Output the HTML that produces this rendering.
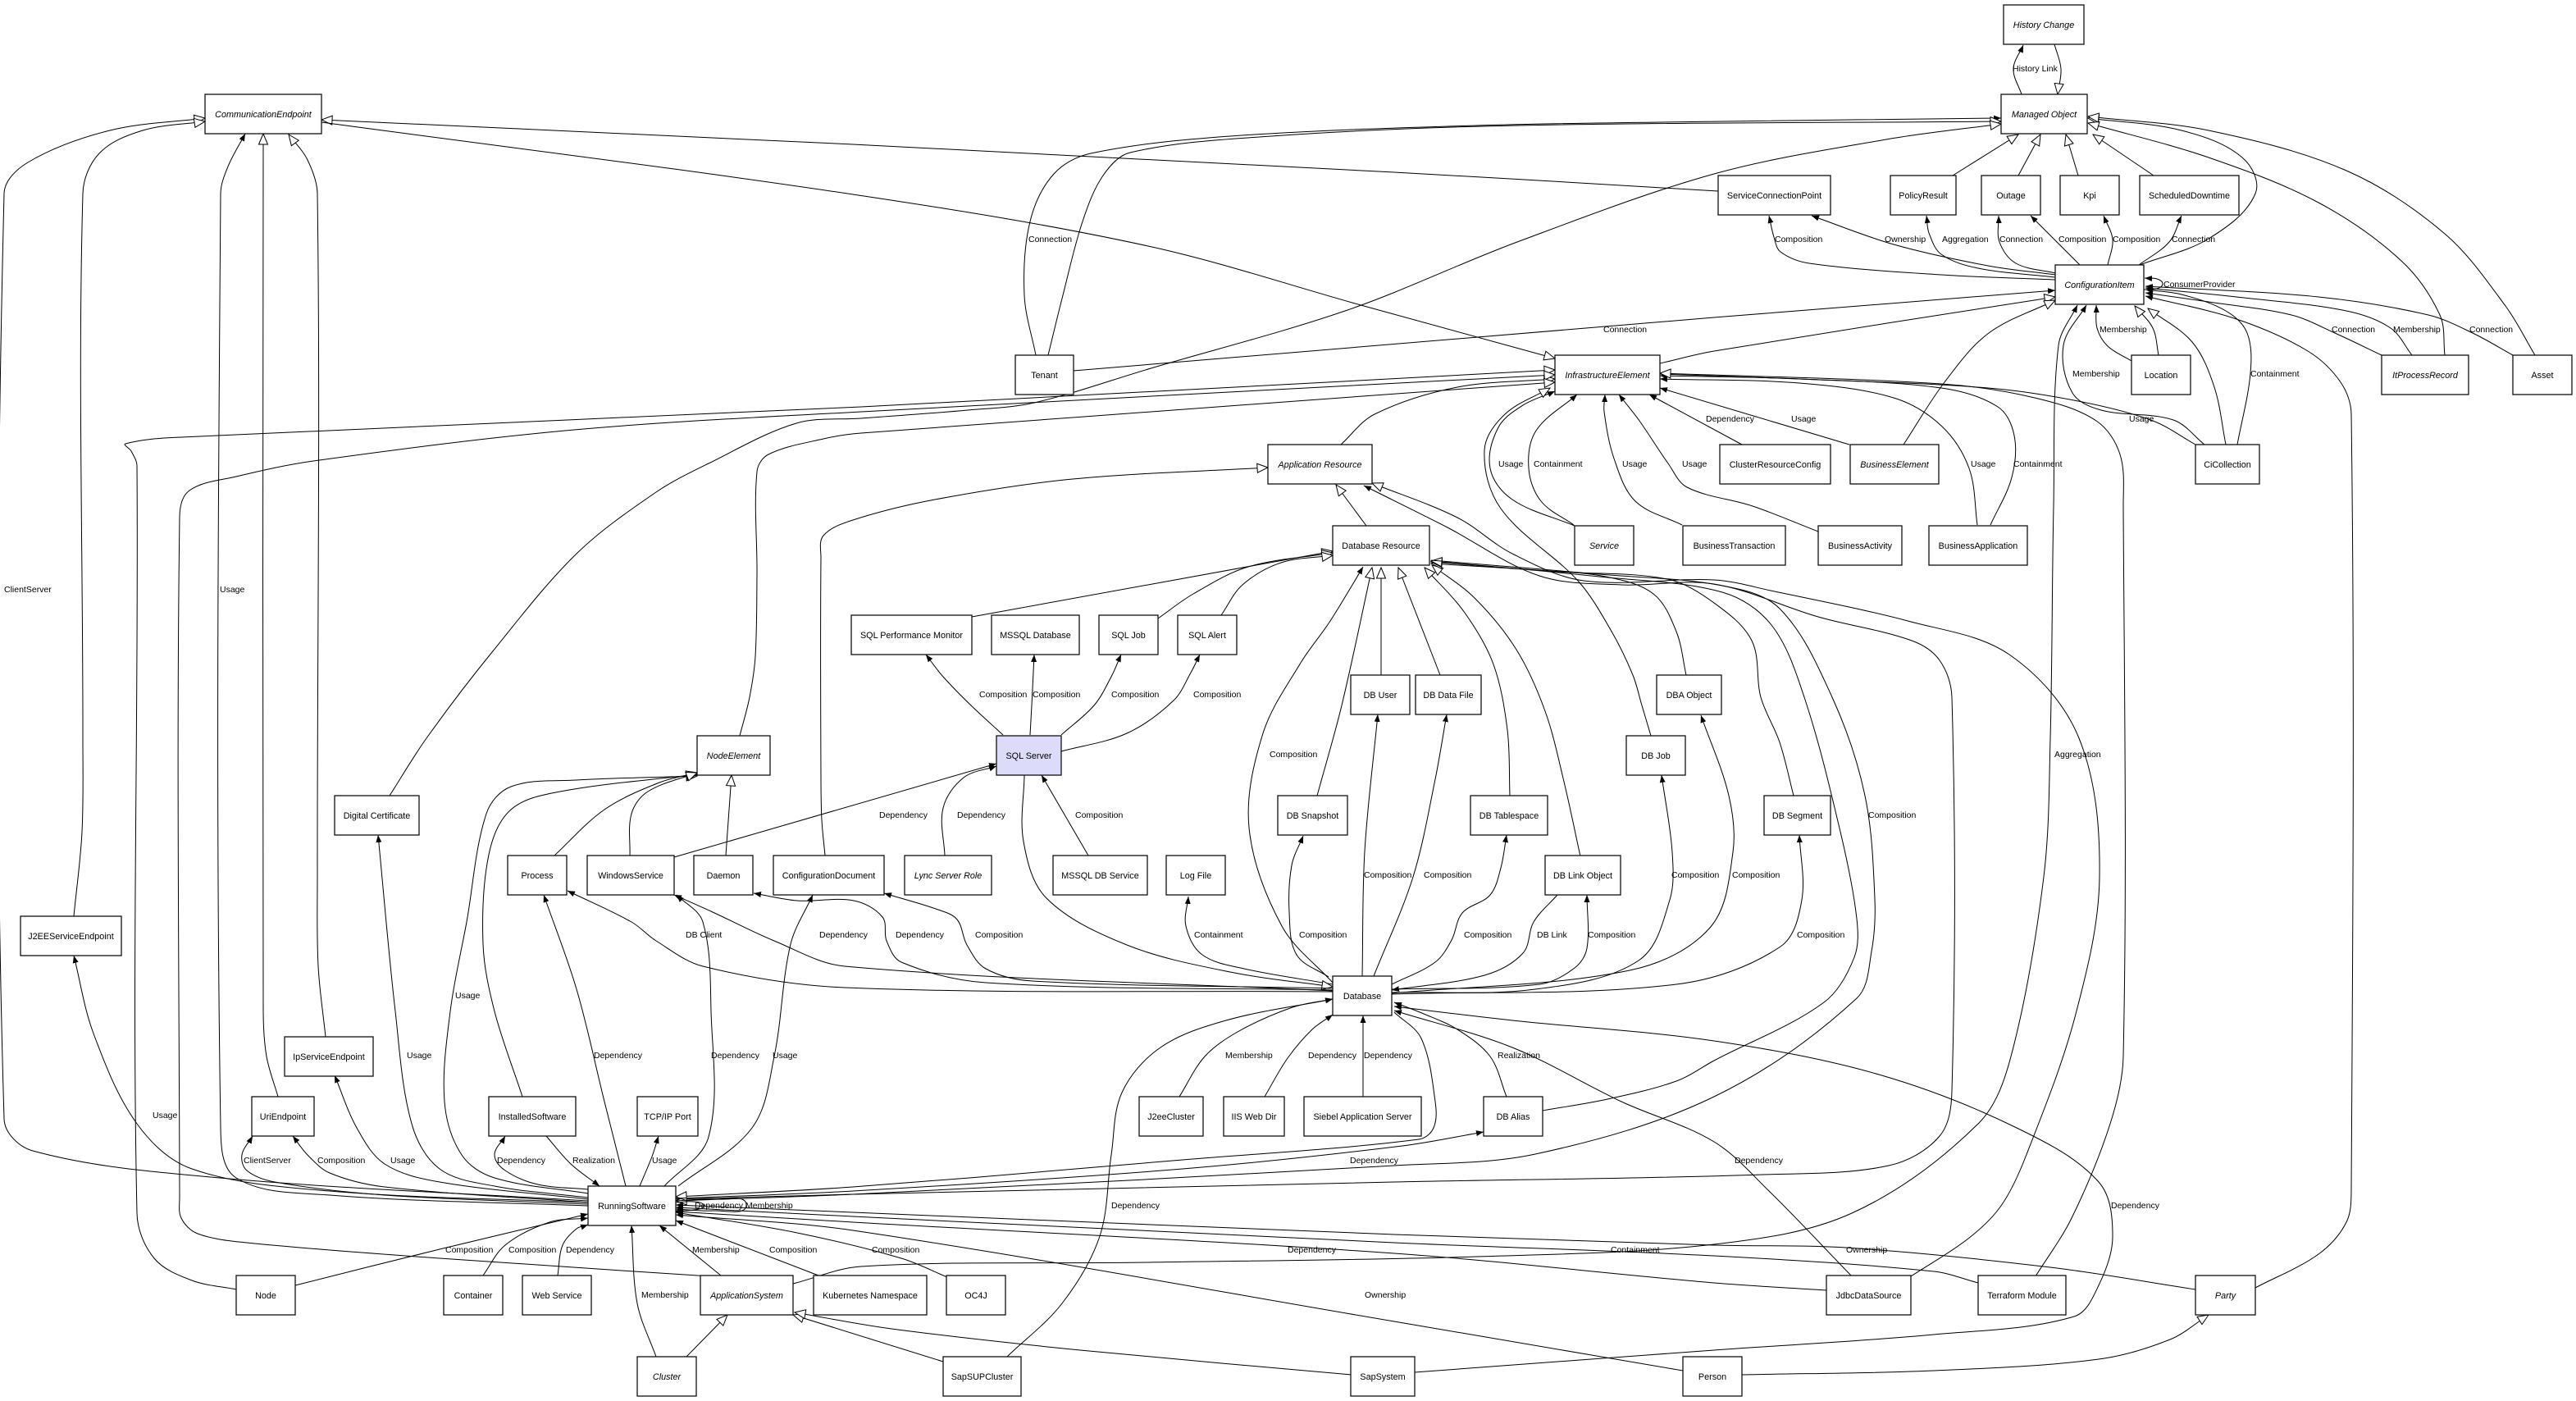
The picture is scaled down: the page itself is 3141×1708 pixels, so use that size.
<!DOCTYPE html>
<html><head><meta charset="utf-8"><title>Diagram</title>
<style>
html,body{margin:0;padding:0;background:#fff;}
svg{display:block;}
text{font-family:"Liberation Sans",Arial,sans-serif;fill:#000;}
text.l{font-size:10.5px;}
text.n{font-size:10.8px;text-anchor:middle;}
text.i{font-style:italic;}
path.e{fill:none;stroke:#000;stroke-width:1;}
.f{marker-end:url(#f);}
.h{marker-end:url(#h);}
rect.b{fill:#fff;stroke:#111;stroke-width:1.3;}
</style></head>
<body>
<svg width="3141" height="1708" viewBox="0 0 3141 1708" xmlns="http://www.w3.org/2000/svg">
<defs>
<marker id="f" viewBox="0 0 9 7" markerWidth="9" markerHeight="7" refX="9" refY="3.5" orient="auto" markerUnits="userSpaceOnUse"><path d="M0,0 L9,3.5 L0,7 z" fill="#000"/></marker>
<marker id="h" viewBox="-1 -1 15 13" markerWidth="15" markerHeight="13" refX="13" refY="5.5" orient="auto" markerUnits="userSpaceOnUse"><path d="M0,0 L13,5.5 L0,11 z" fill="#fff" stroke="#000" stroke-width="1"/></marker>
</defs>
<rect x="0" y="0" width="3141" height="1708" fill="#fff"/>
<g id="edges">
<path class="e f" d="M2465,115L2455,84 2467,55"/>
<path class="e h" d="M2505,54L2513,84 2509,115"/>
<path class="e h" d="M2381,214L2461,164"/>
<path class="e h" d="M2461,214L2488,164"/>
<path class="e h" d="M2534,214L2519,164"/>
<path class="e h" d="M2626,214L2552,164"/>
<path class="e h" d="M2609,323L2693,291 2750,236 2734,192 2660,159 2546,144"/>
<path class="e h" d="M2981,433L2975,384 2928,318 2827,247 2693,192 2546,150"/>
<path class="e h" d="M3091,433L3055,373 2981,285 2861,208 2693,159 2546,142"/>
<path class="e f" d="M1263,433L1249,360 1256,270 1285,212 1330,187 1500,166 1800,153 2100,148 2440,144"/>
<path class="e h" d="M1278,433L1296,360 1320,270 1345,214 1378,186 1550,166 1850,153 2440,148"/>
<path class="e h" d="M475,970L520,900 600,795 703,675 800,600 864,565 971,516 1050,510 1180,500 1261,491 1400,450 1643,378 1850,295 2090,212 2300,170 2440,151"/>
<path class="e h" d="M2095,233L1700,210 1040,176 392,146"/>
<path class="e h" d="M392,149L1040,237 1400,300 1663,373 1896,437"/>
<path class="e f" d="M2506,341L2367,335 2206,321 2171,307 2163,289 2157,263"/>
<path class="e f" d="M2506,335L2424,324 2309,298 2209,263"/>
<path class="e f" d="M2506,338L2412,327 2367,310 2352,284 2349,263"/>
<path class="e f" d="M2506,333L2458,321 2438,295 2437,263"/>
<path class="e f" d="M2536,323L2476,263"/>
<path class="e f" d="M2570,323L2576,292 2565,263"/>
<path class="e f" d="M2608,323L2645,295 2660,263"/>
<path class="e f" d="M2614,353L2630,352 2637,346 2630,340 2615,339"/>
<path class="e f" d="M1309,452L2090,387 2506,354"/>
<path class="e h" d="M2024,443L2090,428 2506,362"/>
<path class="e h" d="M2321,542L2371,466 2425,406 2506,366"/>
<path class="e f" d="M967,1565L1050,1544 1400,1539 1800,1532 2090,1517 2258,1479 2412,1370 2452,1288 2492,1069 2500,900 2504,617 2510,421 2533,372"/>
<path class="e f" d="M2688,542L2650,512 2562,500 2527,479 2516,421 2544,372"/>
<path class="e f" d="M2599,440L2570,422 2557,400 2556,372"/>
<path class="e h" d="M2632,433L2625,400 2603,373"/>
<path class="e h" d="M2714,542L2700,472 2673,417 2619,376"/>
<path class="e f" d="M2728,542L2744,455 2740,406 2714,379 2660,359 2616,353"/>
<path class="e f" d="M2904,433L2847,406 2794,384 2693,368 2616,357"/>
<path class="e f" d="M2941,433L2915,400 2861,379 2727,362 2616,351"/>
<path class="e f" d="M3064,433L3015,406 2961,384 2827,362 2616,349"/>
<path class="e f" d="M2750,1570L2827,1529 2861,1490 2867,1450 2867,505 2854,466 2814,428 2727,389 2616,361"/>
<path class="e h" d="M1635,542L1676,505 1777,472 1896,462"/>
<path class="e f" d="M2124,542L2011,481"/>
<path class="e f" d="M2255,542L2024,473"/>
<path class="e f" d="M2411,640L2401,571 2367,519 2309,485 2194,467 2024,462"/>
<path class="e f" d="M2427,640L2453,582 2456,531 2436,496 2367,473 2194,462 2024,458"/>
<path class="e f" d="M2677,542L2625,513 2539,490 2424,473 2194,462 2024,456"/>
<path class="e h" d="M2482,1556L2526,1485 2573,1370 2589,1288 2589,617 2585,554 2556,513 2481,485 2367,468 2024,455"/>
<path class="e f" d="M1919,640L1879,611 1864,571 1873,525 1923,481"/>
<path class="e f" d="M1920,641L1844,609 1817,571 1827,521 1857,494 1896,477"/>
<path class="e f" d="M2051,640L1994,611 1968,559 1956,502 1957,481"/>
<path class="e f" d="M2217,648L2137,617 2057,594 2034,565 1999,513 1974,481"/>
<path class="e h" d="M2013,897L2002,860 1991,823 1964,768 1924,708 1830,620 1810,549 1835,505 1890,473"/>
<path class="e h" d="M288,1572L234,1561 188,1534 167,1479 167,568 160,550 153,541 221,533 1050,496 1896,451"/>
<path class="e h" d="M866,1556L536,1534 301,1515 241,1504 221,1485 219,1460 219,630 231,598 288,581 382,562 700,524 1050,502 1896,457"/>
<path class="e h" d="M902,897L914,850 921,800 923,700 923,575 937,554 1004,535 1050,528 1896,466"/>
<path class="e h" d="M1666,641L1629,591"/>
<path class="e h" d="M1006,1043L1002,1000 1001,950 1001,680 1004,653 1040,634 1140,609 1308,584 1546,570"/>
<path class="e h" d="M2330,1556L2400,1510 2440,1470 2470,1410 2530,1240 2560,1070 2535,900 2450,798 2330,758 2159,720 2090,707 1931,708 1844,675 1777,631 1673,589"/>
<path class="e f" d="M824,1462L1040,1456 1700,1441 2150,1432 2303,1421 2365,1385 2380,1330 2380,850 2365,805 2331,781 2217,752 2090,712 1977,713 1877,702 1763,642 1663,592"/>
<path class="e h" d="M1185,752L1625,672"/>
<path class="e h" d="M1412,754L1455,724 1522,691 1625,674"/>
<path class="e h" d="M1489,750L1515,713 1562,686 1625,677"/>
<path class="e h" d="M1606,970L1636,860 1673,692"/>
<path class="e h" d="M1684,823L1684,692"/>
<path class="e h" d="M1756,823L1705,692"/>
<path class="e h" d="M1841,970L1838,890 1821,810 1786,747 1737,692"/>
<path class="e h" d="M1927,1044L1907,953 1884,867 1849,792 1798,729 1746,689"/>
<path class="e h" d="M2056,823L2044,770 2016,724 1958,703 1872,695 1745,687"/>
<path class="e h" d="M2187,970L2170,905 2147,850 2136,781 2090,735 2033,706 1900,697 1745,685"/>
<path class="e h" d="M1881,1354L1960,1340 2044,1318 2090,1293 2224,1222 2261,1167 2264,1120 2244,1014 2200,850 2160,762 2100,722 1950,703 1745,684"/>
<path class="e h" d="M1745,683L1950,700 2100,714 2170,742 2234,850 2274,970 2286,1096 2282,1160 2264,1217 2090,1337 1872,1407 1700,1421 1040,1456 824,1464"/>
<path class="e f" d="M1625,1198L1563,1129 1523,1009 1540,894 1586,808 1620,760 1649,713 1662,691"/>
<path class="e f" d="M1661,1190L1664,1038 1680,871"/>
<path class="e f" d="M1675,1190L1723,1069 1750,950 1764,871"/>
<path class="e f" d="M1620,1191L1581,1164 1572,1112 1575,1055 1589,1019"/>
<path class="e f" d="M1625,1200L1517,1181 1466,1164 1446,1129 1449,1093"/>
<path class="e h" d="M1249,945L1248,1026 1276,1095 1374,1152 1500,1185 1625,1203"/>
<path class="e f" d="M1625,1205L1259,1196 1202,1181 1179,1152 1167,1121 1144,1109 1078,1089"/>
<path class="e f" d="M1625,1207L1202,1198 1099,1173 1081,1147 1076,1118 1041,1098 972,1098 919,1089"/>
<path class="e f" d="M1625,1208L1030,1178 944,1147 869,1112 822,1091"/>
<path class="e f" d="M1625,1209L1030,1204 857,1178 800,1147 770,1124 692,1086"/>
<path class="e f" d="M1697,1200L1750,1173 1770,1146 1783,1113 1817,1091 1830,1058 1837,1018"/>
<path class="e f" d="M1899,1091L1870,1124 1857,1162 1810,1189 1697,1207"/>
<path class="e f" d="M1697,1206L1877,1200 1920,1180 1935,1156 1935,1091"/>
<path class="e f" d="M1697,1210L1872,1206 1998,1171 2036,1097 2039,1039 2026,945"/>
<path class="e f" d="M1697,1211L1987,1183 2085,1131 2113,1039 2108,970 2074,872"/>
<path class="e f" d="M1697,1212L2044,1200 2171,1154 2197,1097 2194,1018"/>
<path class="e f" d="M1438,1337L1469,1288 1509,1258 1576,1228 1625,1218"/>
<path class="e f" d="M1542,1337L1570,1290 1600,1255 1625,1237"/>
<path class="e f" d="M1662,1337L1662,1238"/>
<path class="e f" d="M1837,1337L1817,1288 1777,1255 1736,1236 1700,1222"/>
<path class="e f" d="M1228,1654L1295,1589 1341,1507 1355,1408 1368,1332 1415,1277 1495,1244 1625,1218"/>
<path class="e f" d="M2258,1556L2157,1452 2090,1392 1977,1343 1844,1277 1700,1232"/>
<path class="e f" d="M1725,1673L2090,1646 2358,1627 2529,1605 2559,1567 2576,1507 2559,1441 2459,1375 2291,1310 2090,1269 1844,1244 1700,1227"/>
<path class="e h" d="M1700,1234L1733,1266 1750,1343 1748,1375 1730,1389 1442,1414 1040,1447 824,1459"/>
<path class="e f" d="M824,1461L1040,1452 1442,1425 1710,1397 1809,1380"/>
<path class="e f" d="M824,1464L870,1462 910,1469 870,1476 824,1474"/>
<path class="e f" d="M824,1466L846,1465 858,1470 846,1475 824,1476"/>
<path class="e f" d="M717,1460L603,1446 536,1425 502,1370 482,1233 461,1018"/>
<path class="e f" d="M717,1466L402,1452 234,1425 167,1370 114,1260 90,1165"/>
<path class="e h" d="M717,1464L268,1436 40,1403 5,1364 5,236 34,198 134,159 250,144"/>
<path class="e f" d="M717,1470L402,1457 288,1436 269,1375 269,236 278,203 299,163"/>
<path class="e h" d="M90,1117L100,1014 101,900 101,236 121,187 174,159 250,148"/>
<path class="e h" d="M339,1337L325,1288 321,1233 321,163"/>
<path class="e h" d="M397,1264L388,1178 387,1069 387,236 375,195 352,164"/>
<path class="e f" d="M717,1468L469,1457 335,1441 301,1427 295,1408 308,1385"/>
<path class="e f" d="M717,1466L469,1447 402,1430 375,1408 357,1385"/>
<path class="e f" d="M717,1462L536,1441 469,1419 435,1375 408,1311"/>
<path class="e h" d="M717,1455L603,1436 563,1408 542,1343 549,1233 569,1124 593,992 623,959 703,951 850,946"/>
<path class="e h" d="M637,1337L603,1233 589,1151 596,1042 623,987 683,965 850,944"/>
<path class="e h" d="M676,1043L737,987 804,954 850,942"/>
<path class="e h" d="M768,1043L770,992 790,965 850,942"/>
<path class="e h" d="M885,1043L892,945"/>
<path class="e f" d="M822,1045L1215,931"/>
<path class="e f" d="M1152,1043L1150,985 1175,948 1215,934"/>
<path class="e f" d="M1327,1043L1270,945"/>
<path class="e f" d="M1223,896L1184,860 1150,825 1129,798"/>
<path class="e f" d="M1256,896L1258,860 1261,798"/>
<path class="e f" d="M1294,896L1334,860 1355,825 1367,798"/>
<path class="e f" d="M1294,916L1374,894 1431,854 1452,820 1463,798"/>
<path class="e f" d="M763,1446L737,1343 703,1206 663,1091"/>
<path class="e f" d="M810,1446L864,1386 867,1233 857,1124 825,1091"/>
<path class="e f" d="M827,1446L917,1375 944,1288 964,1151 991,1091"/>
<path class="e f" d="M717,1450L656,1444 616,1427 603,1408 616,1385"/>
<path class="e f" d="M666,1385L696,1419 731,1446"/>
<path class="e f" d="M780,1446L795,1410 803,1385"/>
<path class="e f" d="M360,1567L536,1523 717,1480"/>
<path class="e f" d="M589,1555L616,1518 670,1490 717,1485"/>
<path class="e f" d="M680,1555L686,1518 703,1498 717,1493"/>
<path class="e f" d="M800,1654L777,1589 770,1494"/>
<path class="e h" d="M837,1654L887,1603"/>
<path class="e f" d="M879,1555L804,1494"/>
<path class="e f" d="M998,1555L824,1488"/>
<path class="e f" d="M1155,1557L1099,1534 972,1503 824,1478"/>
<path class="e h" d="M1150,1660L967,1603"/>
<path class="e h" d="M1648,1676L1317,1646 1087,1620 969,1600"/>
<path class="e f" d="M2227,1573L2090,1564 1700,1528 1040,1490 824,1477"/>
<path class="e f" d="M2412,1564L2358,1550 2090,1531 1700,1515 1040,1483 824,1472"/>
<path class="e f" d="M2677,1572L2500,1545 2251,1521 2090,1518 1700,1505 1040,1478 824,1469"/>
<path class="e f" d="M2052,1671L1700,1611 1040,1500 824,1481"/>
<path class="e h" d="M2124,1676L2358,1671 2559,1657 2646,1633 2693,1603"/>
</g>
<g id="nodes">
<rect class="b" x="2443" y="6" width="98" height="48"/><text class="n i" x="2492" y="34">History Change</text>
<rect class="b" x="2440" y="115" width="105" height="48"/><text class="n i" x="2492.5" y="143">Managed Object</text>
<rect class="b" x="250" y="115" width="142" height="48"/><text class="n i" x="321" y="143">CommunicationEndpoint</text>
<rect class="b" x="2095" y="214" width="137" height="48"/><text class="n" x="2163.5" y="242">ServiceConnectionPoint</text>
<rect class="b" x="2305" y="214" width="80" height="48"/><text class="n" x="2345" y="242">PolicyResult</text>
<rect class="b" x="2416" y="214" width="72" height="48"/><text class="n" x="2452" y="242">Outage</text>
<rect class="b" x="2512" y="214" width="72" height="48"/><text class="n" x="2548" y="242">Kpi</text>
<rect class="b" x="2609" y="214" width="121" height="48"/><text class="n" x="2669.5" y="242">ScheduledDowntime</text>
<rect class="b" x="2506" y="323" width="108" height="48"/><text class="n i" x="2560" y="351">ConfigurationItem</text>
<rect class="b" x="1238" y="433" width="71" height="48"/><text class="n" x="1273.5" y="461">Tenant</text>
<rect class="b" x="1896" y="433" width="128" height="48"/><text class="n i" x="1960" y="461">InfrastructureElement</text>
<rect class="b" x="2599" y="433" width="72" height="48"/><text class="n" x="2635" y="461">Location</text>
<rect class="b" x="2904" y="433" width="106" height="48"/><text class="n i" x="2957" y="461">ItProcessRecord</text>
<rect class="b" x="3064" y="433" width="72" height="48"/><text class="n" x="3100" y="461">Asset</text>
<rect class="b" x="1546" y="542" width="127" height="48"/><text class="n i" x="1609.5" y="570">Application Resource</text>
<rect class="b" x="2097" y="542" width="135" height="48"/><text class="n" x="2164.5" y="570">ClusterResourceConfig</text>
<rect class="b" x="2256" y="542" width="108" height="48"/><text class="n i" x="2310" y="570">BusinessElement</text>
<rect class="b" x="2677" y="542" width="78" height="48"/><text class="n" x="2716" y="570">CiCollection</text>
<rect class="b" x="1625" y="641" width="118" height="48"/><text class="n" x="1684" y="669">Database Resource</text>
<rect class="b" x="1920" y="641" width="72" height="48"/><text class="n i" x="1956" y="669">Service</text>
<rect class="b" x="2052" y="641" width="125" height="48"/><text class="n" x="2114.5" y="669">BusinessTransaction</text>
<rect class="b" x="2217" y="641" width="102" height="48"/><text class="n" x="2268" y="669">BusinessActivity</text>
<rect class="b" x="2352" y="641" width="120" height="48"/><text class="n" x="2412" y="669">BusinessApplication</text>
<rect class="b" x="1038" y="750" width="147" height="48"/><text class="n" x="1111.5" y="778">SQL Performance Monitor</text>
<rect class="b" x="1209" y="750" width="107" height="48"/><text class="n" x="1262.5" y="778">MSSQL Database</text>
<rect class="b" x="1340" y="750" width="72" height="48"/><text class="n" x="1376" y="778">SQL Job</text>
<rect class="b" x="1436" y="750" width="72" height="48"/><text class="n" x="1472" y="778">SQL Alert</text>
<rect class="b" x="1647" y="823" width="72" height="48"/><text class="n" x="1683" y="851">DB User</text>
<rect class="b" x="1726" y="823" width="80" height="48"/><text class="n" x="1766" y="851">DB Data File</text>
<rect class="b" x="2020" y="823" width="79" height="48"/><text class="n" x="2059.5" y="851">DBA Object</text>
<rect class="b" x="850" y="897" width="89" height="48"/><text class="n i" x="894.5" y="925">NodeElement</text>
<rect class="b" x="1215" y="897" width="79" height="48" style="fill:#dcdcfa"/><text class="n" x="1254.5" y="925">SQL Server</text>
<rect class="b" x="1983" y="897" width="72" height="48"/><text class="n" x="2019" y="925">DB Job</text>
<rect class="b" x="408" y="970" width="103" height="48"/><text class="n" x="459.5" y="998">Digital Certificate</text>
<rect class="b" x="1558" y="970" width="85" height="48"/><text class="n" x="1600.5" y="998">DB Snapshot</text>
<rect class="b" x="1793" y="970" width="94" height="48"/><text class="n" x="1840" y="998">DB Tablespace</text>
<rect class="b" x="2151" y="970" width="81" height="48"/><text class="n" x="2191.5" y="998">DB Segment</text>
<rect class="b" x="619" y="1043" width="72" height="48"/><text class="n" x="655" y="1071">Process</text>
<rect class="b" x="716" y="1043" width="106" height="48"/><text class="n" x="769" y="1071">WindowsService</text>
<rect class="b" x="846" y="1043" width="72" height="48"/><text class="n" x="882" y="1071">Daemon</text>
<rect class="b" x="943" y="1043" width="135" height="48"/><text class="n" x="1010.5" y="1071">ConfigurationDocument</text>
<rect class="b" x="1103" y="1043" width="106" height="48"/><text class="n i" x="1156" y="1071">Lync Server Role</text>
<rect class="b" x="1284" y="1043" width="115" height="48"/><text class="n" x="1341.5" y="1071">MSSQL DB Service</text>
<rect class="b" x="1422" y="1043" width="72" height="48"/><text class="n" x="1458" y="1071">Log File</text>
<rect class="b" x="1884" y="1043" width="92" height="48"/><text class="n" x="1930" y="1071">DB Link Object</text>
<rect class="b" x="25" y="1117" width="123" height="48"/><text class="n" x="86.5" y="1145">J2EEServiceEndpoint</text>
<rect class="b" x="1625" y="1190" width="72" height="48"/><text class="n" x="1661" y="1218">Database</text>
<rect class="b" x="347" y="1264" width="108" height="48"/><text class="n" x="401" y="1292">IpServiceEndpoint</text>
<rect class="b" x="307" y="1337" width="76" height="48"/><text class="n" x="345" y="1365">UriEndpoint</text>
<rect class="b" x="596" y="1337" width="106" height="48"/><text class="n" x="649" y="1365">InstalledSoftware</text>
<rect class="b" x="777" y="1337" width="74" height="48"/><text class="n" x="814" y="1365">TCP/IP Port</text>
<rect class="b" x="1389" y="1337" width="78" height="48"/><text class="n" x="1428" y="1365">J2eeCluster</text>
<rect class="b" x="1492" y="1337" width="74" height="48"/><text class="n" x="1529" y="1365">IIS Web Dir</text>
<rect class="b" x="1590" y="1337" width="143" height="48"/><text class="n" x="1661.5" y="1365">Siebel Application Server</text>
<rect class="b" x="1809" y="1337" width="72" height="48"/><text class="n" x="1845" y="1365">DB Alias</text>
<rect class="b" x="717" y="1446" width="107" height="48"/><text class="n" x="770.5" y="1474">RunningSoftware</text>
<rect class="b" x="288" y="1555" width="72" height="48"/><text class="n" x="324" y="1583">Node</text>
<rect class="b" x="541" y="1555" width="72" height="48"/><text class="n" x="577" y="1583">Container</text>
<rect class="b" x="637" y="1555" width="84" height="48"/><text class="n" x="679" y="1583">Web Service</text>
<rect class="b" x="854" y="1555" width="113" height="48"/><text class="n i" x="910.5" y="1583">ApplicationSystem</text>
<rect class="b" x="992" y="1555" width="138" height="48"/><text class="n" x="1061" y="1583">Kubernetes Namespace</text>
<rect class="b" x="1154" y="1555" width="72" height="48"/><text class="n" x="1190" y="1583">OC4J</text>
<rect class="b" x="2227" y="1555" width="103" height="48"/><text class="n" x="2278.5" y="1583">JdbcDataSource</text>
<rect class="b" x="2412" y="1555" width="107" height="48"/><text class="n" x="2465.5" y="1583">Terraform Module</text>
<rect class="b" x="2677" y="1555" width="73" height="48"/><text class="n i" x="2713.5" y="1583">Party</text>
<rect class="b" x="777" y="1654" width="72" height="48"/><text class="n i" x="813" y="1682">Cluster</text>
<rect class="b" x="1150" y="1654" width="95" height="48"/><text class="n" x="1197.5" y="1682">SapSUPCluster</text>
<rect class="b" x="1647" y="1654" width="78" height="48"/><text class="n" x="1686" y="1682">SapSystem</text>
<rect class="b" x="2052" y="1654" width="72" height="48"/><text class="n" x="2088" y="1682">Person</text>
</g>
<g id="labels">
<text class="l" x="5" y="722">ClientServer</text>
<text class="l" x="268" y="722">Usage</text>
<text class="l" x="1254" y="295">Connection</text>
<text class="l" x="1955" y="405">Connection</text>
<text class="l" x="1827" y="569">Usage</text>
<text class="l" x="1870" y="569">Containment</text>
<text class="l" x="1978" y="569">Usage</text>
<text class="l" x="2051" y="569">Usage</text>
<text class="l" x="1194" y="850">Composition</text>
<text class="l" x="1259" y="850">Composition</text>
<text class="l" x="1355" y="850">Composition</text>
<text class="l" x="1455" y="850">Composition</text>
<text class="l" x="2454" y="87">History Link</text>
<text class="l" x="2164" y="295">Composition</text>
<text class="l" x="2298" y="295">Ownership</text>
<text class="l" x="2368" y="295">Aggregation</text>
<text class="l" x="2438" y="295">Connection</text>
<text class="l" x="2510" y="295">Composition</text>
<text class="l" x="2576" y="295">Composition</text>
<text class="l" x="2648" y="295">Connection</text>
<text class="l" x="2638" y="350">ConsumerProvider</text>
<text class="l" x="2560" y="405">Membership</text>
<text class="l" x="2843" y="405">Connection</text>
<text class="l" x="2918" y="405">Membership</text>
<text class="l" x="3011" y="405">Connection</text>
<text class="l" x="2527" y="459">Membership</text>
<text class="l" x="2744" y="459">Containment</text>
<text class="l" x="2080" y="514">Dependency</text>
<text class="l" x="2184" y="514">Usage</text>
<text class="l" x="2596" y="514">Usage</text>
<text class="l" x="2403" y="569">Usage</text>
<text class="l" x="2455" y="569">Containment</text>
<text class="l" x="836" y="1143">DB Client</text>
<text class="l" x="999" y="1143">Dependency</text>
<text class="l" x="555" y="1217">Usage</text>
<text class="l" x="496" y="1290">Usage</text>
<text class="l" x="724" y="1290">Dependency</text>
<text class="l" x="867" y="1290">Dependency</text>
<text class="l" x="942" y="1290">Usage</text>
<text class="l" x="186" y="1363">Usage</text>
<text class="l" x="297" y="1418">ClientServer</text>
<text class="l" x="387" y="1418">Composition</text>
<text class="l" x="476" y="1418">Usage</text>
<text class="l" x="606" y="1418">Dependency</text>
<text class="l" x="698" y="1418">Realization</text>
<text class="l" x="795" y="1418">Usage</text>
<text class="l" x="847" y="1473">Dependency</text>
<text class="l" x="909" y="1473">Membership</text>
<text class="l" x="543" y="1527">Composition</text>
<text class="l" x="620" y="1527">Composition</text>
<text class="l" x="690" y="1527">Dependency</text>
<text class="l" x="844" y="1527">Membership</text>
<text class="l" x="938" y="1527">Composition</text>
<text class="l" x="782" y="1582">Membership</text>
<text class="l" x="1548" y="923">Composition</text>
<text class="l" x="1072" y="997">Dependency</text>
<text class="l" x="1167" y="997">Dependency</text>
<text class="l" x="1311" y="997">Composition</text>
<text class="l" x="1663" y="1070">Composition</text>
<text class="l" x="1736" y="1070">Composition</text>
<text class="l" x="2038" y="1070">Composition</text>
<text class="l" x="1092" y="1143">Dependency</text>
<text class="l" x="1189" y="1143">Composition</text>
<text class="l" x="1456" y="1143">Containment</text>
<text class="l" x="1584" y="1143">Composition</text>
<text class="l" x="1785" y="1143">Composition</text>
<text class="l" x="1874" y="1143">DB Link</text>
<text class="l" x="1936" y="1143">Composition</text>
<text class="l" x="1494" y="1290">Membership</text>
<text class="l" x="1595" y="1290">Dependency</text>
<text class="l" x="1663" y="1290">Dependency</text>
<text class="l" x="1826" y="1290">Realization</text>
<text class="l" x="1646" y="1418">Dependency</text>
<text class="l" x="1355" y="1473">Dependency</text>
<text class="l" x="1063" y="1527">Composition</text>
<text class="l" x="1570" y="1527">Dependency</text>
<text class="l" x="1964" y="1527">Containment</text>
<text class="l" x="1664" y="1582">Ownership</text>
<text class="l" x="2505" y="923">Aggregation</text>
<text class="l" x="2278" y="997">Composition</text>
<text class="l" x="2112" y="1070">Composition</text>
<text class="l" x="2191" y="1143">Composition</text>
<text class="l" x="2115" y="1418">Dependency</text>
<text class="l" x="2574" y="1473">Dependency</text>
<text class="l" x="2251" y="1527">Ownership</text>
</g>
</svg>
<script>
(function(){
  function unit(ax, ay){ var l = Math.sqrt(ax*ax + ay*ay) || 1; return [ax/l, ay/l]; }
  var ps = document.querySelectorAll('path.e');
  for (var k = 0; k < ps.length; k++) {
    var p = ps[k];
    var nums = p.getAttribute('d').match(/-?\d+(\.\d+)?/g).map(Number);
    var pts = [];
    for (var i = 0; i + 1 < nums.length; i += 2) pts.push([nums[i], nums[i+1]]);
    if (pts.length < 3) continue;
    var d = 'M' + pts[0][0] + ',' + pts[0][1];
    for (var j = 0; j < pts.length - 1; j++) {
      var p0 = pts[j-1] || pts[j], p1 = pts[j], p2 = pts[j+1], p3 = pts[j+2] || pts[j+1];
      var L = Math.sqrt((p2[0]-p1[0])*(p2[0]-p1[0]) + (p2[1]-p1[1])*(p2[1]-p1[1]));
      var t1 = unit(p2[0]-p0[0], p2[1]-p0[1]);
      var t2 = unit(p3[0]-p1[0], p3[1]-p1[1]);
      var s = L / 3;
      var c1x = p1[0] + t1[0]*s, c1y = p1[1] + t1[1]*s;
      var c2x = p2[0] - t2[0]*s, c2y = p2[1] - t2[1]*s;
      d += ' C' + c1x.toFixed(1) + ',' + c1y.toFixed(1) + ' ' + c2x.toFixed(1) + ',' + c2y.toFixed(1) + ' ' + p2[0] + ',' + p2[1];
    }
    p.setAttribute('d', d);
  }
})();
</script>
</body></html>
